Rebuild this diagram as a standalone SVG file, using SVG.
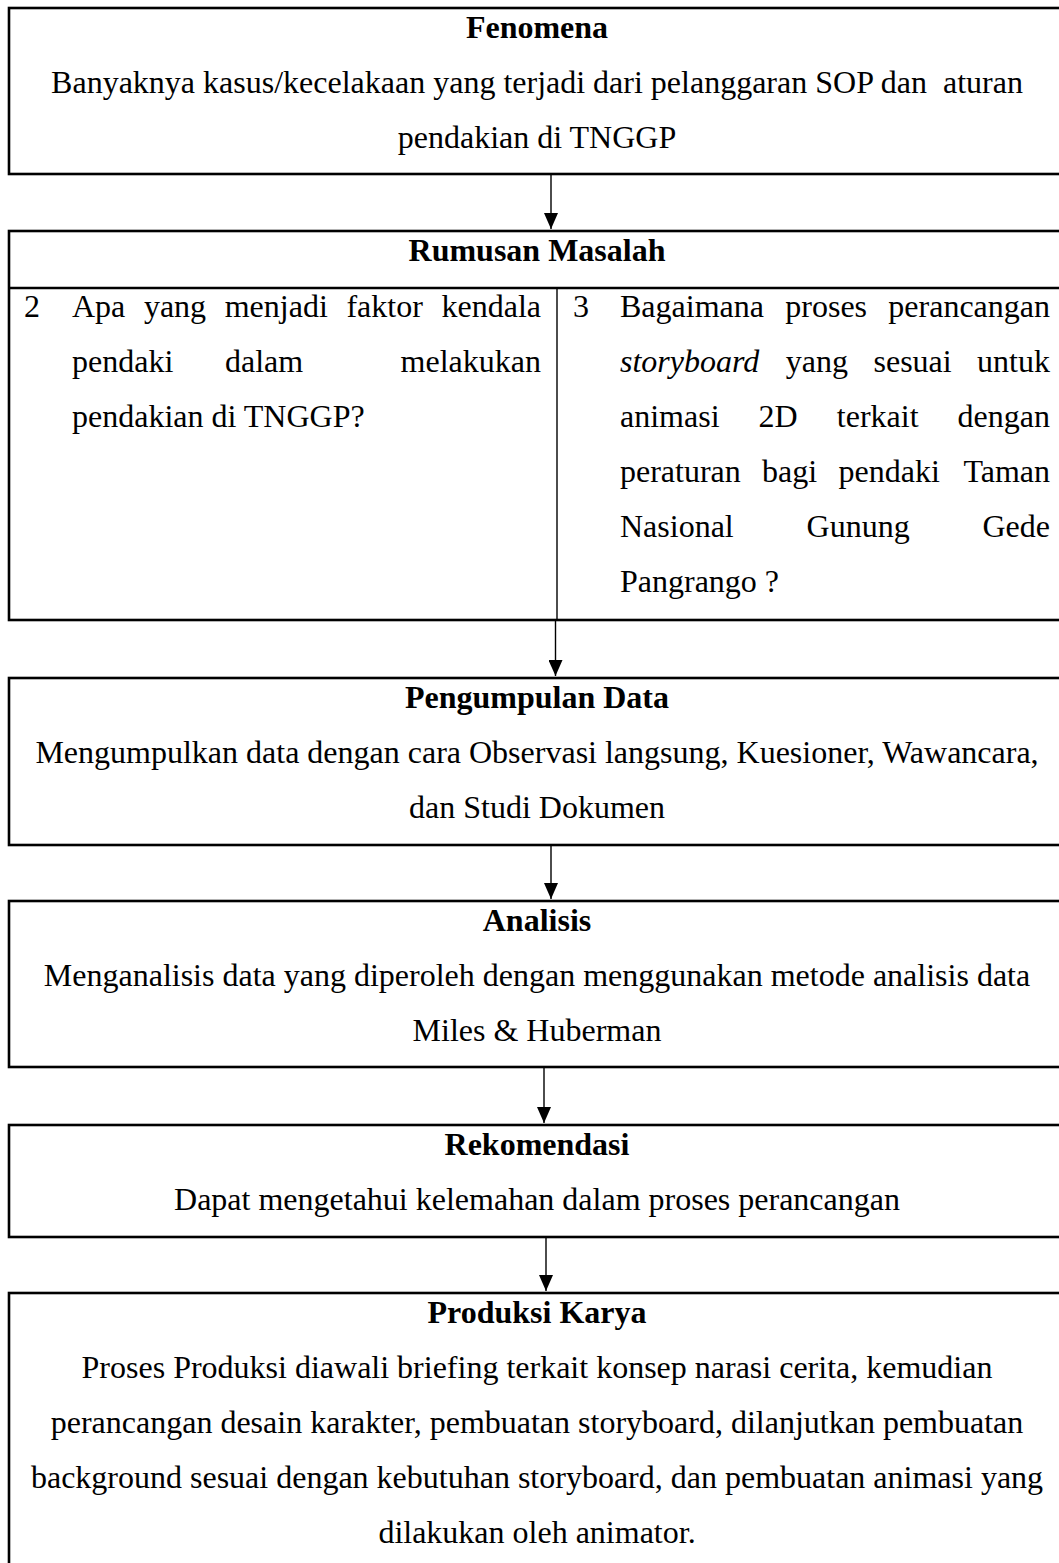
<svg xmlns="http://www.w3.org/2000/svg" width="1059" height="1563" viewBox="0 0 1059 1563">
<style>
text{font-family:"Liberation Serif","Times New Roman",serif;font-size:32px;fill:#000}
.t{font-weight:bold;text-anchor:middle}
.c{text-anchor:middle}
.e{text-anchor:end}
.box{fill:none;stroke:#000;stroke-width:2.6}
.thin{fill:none;stroke:#000;stroke-width:1.4}
.conn{fill:none;stroke:#000;stroke-width:1.4}
</style>
<defs>
<marker id="ah" markerUnits="userSpaceOnUse" markerWidth="16" markerHeight="14" refX="16" refY="7" orient="auto" viewBox="0 0 16 14">
<path d="M0,0 L16,7 L0,14 Z" fill="#000"/>
</marker>
</defs>
<rect width="1059" height="1563" fill="#fff"/>

<g id="fenomena">
<rect class="box" x="9" y="8" width="1057" height="166"/>
<text class="t" x="537" y="38">Fenomena</text>
<text class="c" x="537" y="93" style="white-space:pre">Banyaknya kasus/kecelakaan yang terjadi dari pelanggaran SOP dan  aturan</text>
<text class="c" x="537" y="148">pendakian di TNGGP</text>
</g>

<g id="rumusan">
<rect class="box" x="9" y="231" width="1057" height="389"/>
<line class="box" x1="9" y1="288" x2="1066" y2="288"/>
<line class="thin" x1="557" y1="288" x2="557" y2="620"/>
<text class="t" x="537" y="261">Rumusan Masalah</text>
<text x="24" y="317">2</text>
<text x="72" y="317">Apa</text>
<text x="143.9" y="317">yang</text>
<text x="224.7" y="317">menjadi</text>
<text x="346.4" y="317">faktor</text>
<text class="e" x="541" y="317">kendala</text>
<text x="72" y="372">pendaki</text>
<text x="225" y="372">dalam</text>
<text class="e" x="541" y="372">melakukan</text>
<text x="72" y="427">pendakian di TNGGP?</text>
<text x="573" y="317">3</text>
<text x="620" y="317">Bagaimana</text>
<text x="785.3" y="317">proses</text>
<text class="e" x="1050" y="317">perancangan</text>
<text x="620" y="372" font-style="italic">storyboard</text>
<text x="785.8" y="372">yang</text>
<text x="873.5" y="372">sesuai</text>
<text class="e" x="1050" y="372">untuk</text>
<text x="620" y="427">animasi</text>
<text x="758.6" y="427">2D</text>
<text x="836.8" y="427">terkait</text>
<text class="e" x="1050" y="427">dengan</text>
<text x="620" y="482">peraturan</text>
<text x="762.1" y="482">bagi</text>
<text x="838.5" y="482">pendaki</text>
<text class="e" x="1050" y="482">Taman</text>
<text x="620" y="537">Nasional</text>
<text x="806.6" y="537">Gunung</text>
<text class="e" x="1050" y="537">Gede</text>
<text x="620" y="592">Pangrango ?</text>
</g>

<g id="pengumpulan">
<rect class="box" x="9" y="678" width="1057" height="167"/>
<text class="t" x="537" y="708">Pengumpulan Data</text>
<text class="c" x="537" y="763">Mengumpulkan data dengan cara Observasi langsung, Kuesioner, Wawancara,</text>
<text class="c" x="537" y="818">dan Studi Dokumen</text>
</g>

<g id="analisis">
<rect class="box" x="9" y="901" width="1057" height="166"/>
<text class="t" x="537" y="931">Analisis</text>
<text class="c" x="537" y="986">Menganalisis data yang diperoleh dengan menggunakan metode analisis data</text>
<text class="c" x="537" y="1041">Miles &amp; Huberman</text>
</g>

<g id="rekomendasi">
<rect class="box" x="9" y="1125" width="1057" height="112"/>
<text class="t" x="537" y="1155">Rekomendasi</text>
<text class="c" x="537" y="1210">Dapat mengetahui kelemahan dalam proses perancangan</text>
</g>

<g id="produksi">
<rect class="box" x="9" y="1293" width="1057" height="280"/>
<text class="t" x="537" y="1323">Produksi Karya</text>
<text class="c" x="537" y="1378">Proses Produksi diawali briefing terkait konsep narasi cerita, kemudian</text>
<text class="c" x="537" y="1433">perancangan desain karakter, pembuatan storyboard, dilanjutkan pembuatan</text>
<text class="c" x="537" y="1488">background sesuai dengan kebutuhan storyboard, dan pembuatan animasi yang</text>
<text class="c" x="537" y="1543">dilakukan oleh animator.</text>
</g>

<g id="connectors">
<line class="conn" x1="551" y1="175" x2="551" y2="229" marker-end="url(#ah)"/>
<line class="conn" x1="555.5" y1="621" x2="555.5" y2="676" marker-end="url(#ah)"/>
<line class="conn" x1="551" y1="846" x2="551" y2="899" marker-end="url(#ah)"/>
<line class="conn" x1="544" y1="1068" x2="544" y2="1123" marker-end="url(#ah)"/>
<line class="conn" x1="546" y1="1238" x2="546" y2="1291" marker-end="url(#ah)"/>
</g>
</svg>
